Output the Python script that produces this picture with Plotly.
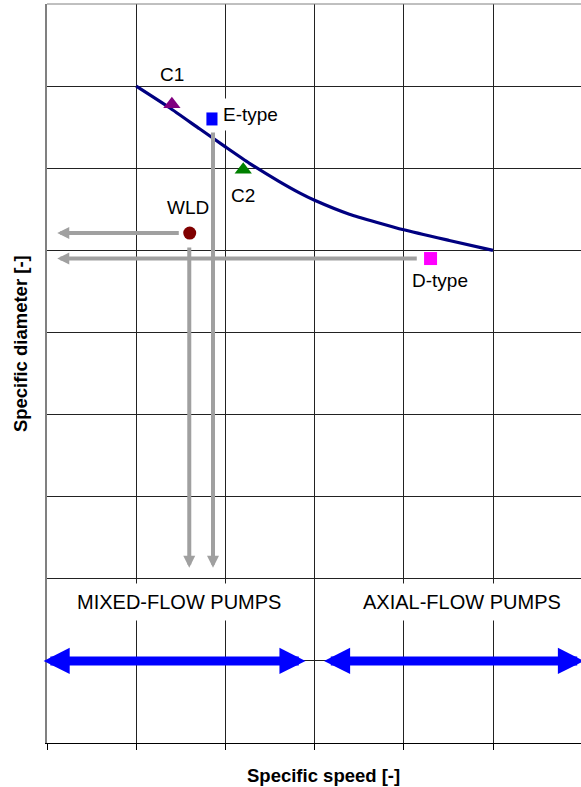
import plotly.graph_objects as go

# Reference line: specific diameter vs specific speed (grid units)
line_speed = [1.0, 1.37, 1.71, 2.0, 2.27, 2.60, 2.83, 3.0, 3.39, 4.0, 4.51, 5.0]
line_diam = [8.0, 7.74, 7.48, 7.26, 7.06, 6.84, 6.70, 6.61, 6.44, 6.25, 6.12, 6.0]

# Individual pump designs
pump_names = ["C1", "E-type", "C2", "WLD", "D-type"]
pump_speed = [1.40, 1.86, 2.20, 1.60, 4.30]
pump_diam = [7.78, 7.60, 6.98, 6.21, 5.90]

# Read-off guide arrows (tail -> head)
guide_tail_x = [1.483, 1.595, 1.861, 4.151]
guide_tail_y = [6.21, 6.04, 7.44, 5.90]
guide_head_x = [0.115, 1.595, 1.861, 0.115]
guide_head_y = [6.21, 2.135, 2.135, 5.90]

# Pump-type ranges along the speed axis
range_names = ["MIXED-FLOW PUMPS", "AXIAL-FLOW PUMPS"]
range_start = [-0.038, 3.10]
range_end = [2.904, 6.02]
range_level = 1.0
range_label_x = [1.483, 4.656]
range_label_y = 1.718

# Styling
pump_symbols = ["triangle-up", "square", "triangle-up", "circle", "square"]
pump_colors = ["#800080", "#0000FF", "#008000", "#800000", "#FF00FF"]
pump_sizes = [15, 13, 15, 13, 13]
label_shift = [(0, 30), (38, 4), (0, -26), (-2, 26), (9, -22)]
label_bg = [None, "white", None, None, None]

FONT = "Arial, Liberation Sans, sans-serif"

fig = go.Figure()

fig.add_trace(go.Scatter(
    x=line_speed, y=line_diam, mode="lines",
    line=dict(color="#000080", width=3.2, shape="spline", smoothing=0.5),
    hoverinfo="skip", showlegend=False,
))

for name, sx, dy, sym, col, sz in zip(pump_names, pump_speed, pump_diam,
                                       pump_symbols, pump_colors, pump_sizes):
    fig.add_trace(go.Scatter(
        x=[sx], y=[dy], mode="markers", name=name,
        marker=dict(symbol=sym, color=col, size=sz, line=dict(width=0)),
        showlegend=False,
    ))

annotations = []

# grey read-off arrows
for tx, ty, hx, hy in zip(guide_tail_x, guide_tail_y, guide_head_x, guide_head_y):
    annotations.append(dict(
        x=hx, y=hy, ax=tx, ay=ty, xref="x", yref="y", axref="x", ayref="y",
        text="", showarrow=True, arrowhead=2, arrowsize=0.6, arrowwidth=4,
        arrowcolor="#A0A0A0", font=dict(size=1), borderpad=0,
    ))

# blue double-headed range arrows
for x0, x1 in zip(range_start, range_end):
    annotations.append(dict(
        x=x0 if x0 < 0 else x1, y=range_level,
        ax=x1 if x0 < 0 else x0, ay=range_level,
        xref="x", yref="y", axref="x", ayref="y",
        text="", showarrow=True, arrowside="end+start",
        arrowhead=2, startarrowhead=2, arrowsize=0.58, startarrowsize=0.58,
        arrowwidth=9, arrowcolor="#0000FF", font=dict(size=1), borderpad=0,
    ))

# range labels
for name, lx in zip(range_names, range_label_x):
    annotations.append(dict(
        x=lx, y=range_label_y, xref="x", yref="y", text=name, showarrow=False,
        font=dict(family=FONT, size=20, color="black"),
        bgcolor="white", borderpad=7,
    ))

# pump labels
for name, sx, dy, (xs, ys), bg in zip(pump_names, pump_speed, pump_diam,
                                      label_shift, label_bg):
    ann = dict(
        x=sx, y=dy, xref="x", yref="y", text=name, showarrow=False,
        xshift=xs, yshift=ys,
        font=dict(family=FONT, size=19, color="black"),
    )
    if bg:
        ann.update(bgcolor=bg, borderpad=5)
    annotations.append(ann)

# axis titles
annotations.append(dict(
    x=3.105, y=-0.0437, xref="x", yref="paper", text="Specific speed [-]",
    showarrow=False, yanchor="middle",
    font=dict(family=FONT, size=18.5, color="black", weight="bold"),
))
annotations.append(dict(
    x=-0.0506, y=4.87, xref="paper", yref="y", text="Specific diameter [-]",
    showarrow=False, textangle=-90, xanchor="center",
    font=dict(family=FONT, size=18.5, color="black", weight="bold"),
))

# grey top border of the plot frame
frame_shapes = [
    dict(type="line", xref="paper", yref="paper", x0=0, x1=1, y0=1, y1=1,
         line=dict(color="#808080", width=1), layer="above"),
]

fig.update_layout(
    width=581, height=787,
    margin=dict(l=47, r=0, t=4, b=44),
    paper_bgcolor="white", plot_bgcolor="white",
    showlegend=False,
    annotations=annotations,
    shapes=frame_shapes,
    xaxis=dict(
        range=[0, 534 / 89.2], tick0=0, dtick=1, showgrid=True,
        gridcolor="#222222", gridwidth=1, zeroline=False,
        showline=True, linecolor="black", linewidth=1, mirror=False,
        ticks="outside", ticklen=6, tickcolor="black", showticklabels=False,
        fixedrange=True,
    ),
    yaxis=dict(
        range=[0, 9], tick0=0, dtick=1, showgrid=True,
        gridcolor="#222222", gridwidth=1, zeroline=False,
        showline=True, linecolor="#808080", linewidth=2, mirror=False,
        ticks="", showticklabels=False, fixedrange=True,
    ),
)

fig.write_html("out.html")
